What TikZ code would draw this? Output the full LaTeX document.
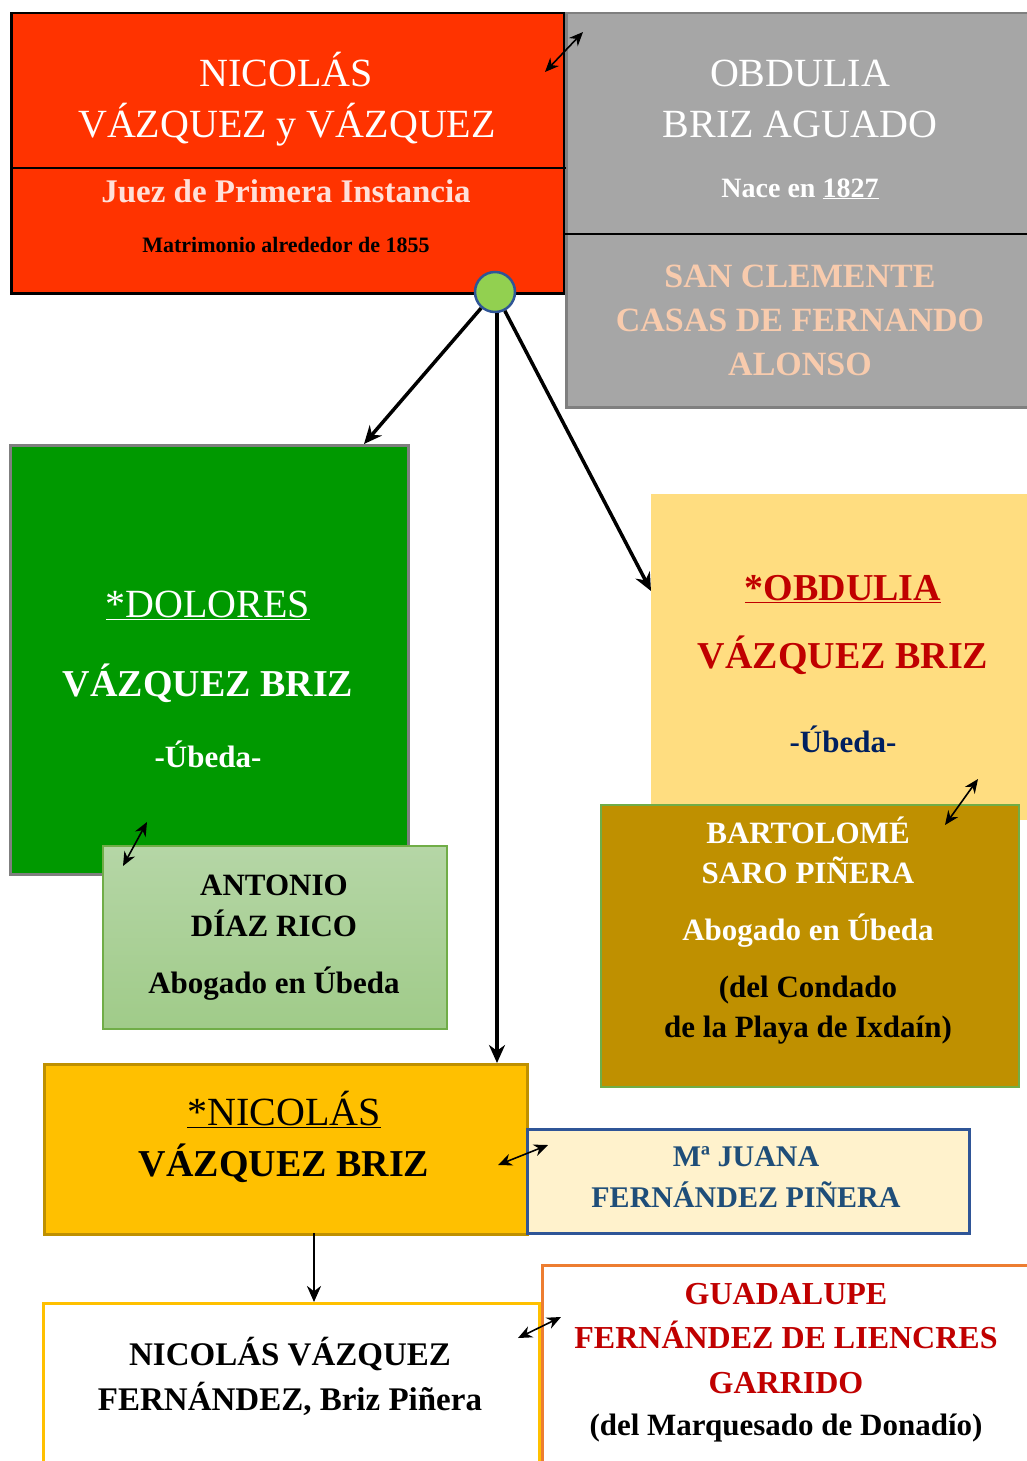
\documentclass[tikz,border=0pt]{standalone}
\usepackage{fontspec}
\setmainfont{Liberation Serif}
\usetikzlibrary{arrows.meta}
\definecolor{rojo}{HTML}{FF3300}
\definecolor{gris}{HTML}{A6A6A6}
\definecolor{grisborde}{HTML}{7F7F7F}
\definecolor{melocoton}{HTML}{F8CBAD}
\definecolor{verde}{HTML}{009900}
\definecolor{verdeclaro}{HTML}{B5D6A6}
\definecolor{verdemedio}{HTML}{A0CB89}
\definecolor{verdeborde}{HTML}{70AD47}
\definecolor{amarillo}{HTML}{FFDD80}
\definecolor{oro}{HTML}{BF9000}
\definecolor{ambar}{HTML}{FFC000}
\definecolor{crema}{HTML}{FFF2CC}
\definecolor{azulborde}{HTML}{2F5597}
\definecolor{azultexto}{HTML}{1F4E79}
\definecolor{marino}{HTML}{002060}
\definecolor{granate}{HTML}{C00000}
\definecolor{naranja}{HTML}{ED7D31}
\definecolor{verdelima}{HTML}{92D050}
\newcommand{\tam}[1]{\fontsize{#1}{#1}\selectfont}
\tikzset{
  caja/.style={rectangle, anchor=north west, inner sep=0pt},
  txt/.style={anchor=base, inner sep=0pt},
  flecha/.style={-{Stealth[length=18pt,width=16pt]}, line width=3.5pt},
  doble/.style={{Stealth[length=14pt,width=12pt]}-{Stealth[length=14pt,width=12pt]}, line width=1.6pt},
}
\begin{document}
\begin{tikzpicture}[x=1pt, y=-1pt]
    \useasboundingbox (0,0) rectangle (1027,1461);
    \clip (0,0) rectangle (1027,1461);
    % cajas
    \node[caja, fill=rojo, draw=black, line width=2.5pt, minimum width=553pt, minimum height=280pt] (padre) at (10,12) {};
    \node[caja, fill=gris, draw=grisborde, line width=2.5pt, minimum width=480pt, minimum height=394pt] (madre) at (565,12) {};
    \draw[line width=1.4pt] (padre.west |- 0,168) -- (padre.east |- 0,168);
    \draw[line width=1.4pt] (madre.west |- 0,234) -- (1030,234);
    \node[caja, fill=verde, draw=grisborde, line width=2.5pt, minimum width=398pt, minimum height=429pt] (dolores) at (9,444) {};
    \node[caja, top color=verdeclaro, bottom color=verdemedio, draw=verdeborde, line width=1.8pt, minimum width=344pt, minimum height=183pt] (antonio) at (102,845) {};
    \node[caja, fill=amarillo, minimum width=390pt, minimum height=326pt] (obdulia) at (651,494) {};
    \node[caja, fill=oro, draw=verdeborde, line width=1.8pt, minimum width=418pt, minimum height=282pt] (bartolome) at (600,804) {};
    \node[caja, fill=ambar, draw=oro, line width=2.5pt, minimum width=483pt, minimum height=170pt] (nicolas) at (43,1063) {};
    \node[caja, fill=crema, draw=azulborde, line width=2.5pt, minimum width=442pt, minimum height=104pt] (juana) at (526,1128) {};
    \node[caja, fill=white, draw=ambar, line width=2.5pt, minimum width=496pt, minimum height=220pt] (nieto) at (42,1302) {};
    \node[caja, fill=white, draw=naranja, line width=2.5pt, minimum width=500pt, minimum height=240pt] (guadalupe) at (541,1264) {};
    % textos
    \node[txt, white, font=\tam{40}] (p1) at (286,87) {NICOLÁS};
    \node[txt, white, font=\tam{40}] (p2) at (287,138) {VÁZQUEZ y VÁZQUEZ};
    \node[txt, white!85!rojo, font=\bfseries\tam{33}] (p3) at (286,202) {Juez de Primera Instancia};
    \node[txt, black, font=\bfseries\tam{22}] (p4) at (286,252) {Matrimonio alrededor de 1855};
    \node[txt, white, font=\tam{40}] (m1) at (800,87) {OBDULIA};
    \node[txt, white, font=\tam{40}] (m2) at (800,138) {BRIZ AGUADO};
    \node[txt, white, font=\bfseries\tam{28}] (m3) at (800,197) {Nace en \underline{1827}};
    \foreach \y/\t [count=\i] in {287/SAN CLEMENTE, 331/CASAS DE FERNANDO, 375/ALONSO}
      \node[txt, melocoton, font=\bfseries\tam{34}] (ms\i) at (800,\y) {\t};
    \node[txt, white, font=\tam{40}] (d1) at (208,617) {\underline{*DOLORES}};
    \node[txt, white, font=\bfseries\tam{38}] (d2) at (208,696) {VÁZQUEZ BRIZ};
    \node[txt, white, font=\bfseries\tam{31}] (d3) at (208,767) {-Úbeda-};
    \node[txt, font=\bfseries\tam{31}] (a1) at (274,895) {ANTONIO};
    \node[txt, font=\bfseries\tam{31}] (a2) at (274,936) {DÍAZ RICO};
    \node[txt, font=\bfseries\tam{31}] (a3) at (274,993) {Abogado en Úbeda};
    \node[txt, granate, font=\bfseries\tam{38}] (o1) at (843,600) {\underline{*OBDULIA}};
    \node[txt, granate, font=\bfseries\tam{38}] (o2) at (843,668) {VÁZQUEZ BRIZ};
    \node[txt, marino, font=\bfseries\tam{31}] (o3) at (843,752) {-Úbeda-};
    \node[txt, white, font=\bfseries\tam{31}] (b1) at (808,843) {BARTOLOMÉ};
    \node[txt, white, font=\bfseries\tam{31}] (b2) at (808,883) {SARO PIÑERA};
    \node[txt, white, font=\bfseries\tam{31}] (b3) at (808,940) {Abogado en Úbeda};
    \node[txt, font=\bfseries\tam{31}] (b4) at (808,997) {(del Condado};
    \node[txt, font=\bfseries\tam{31}] (b5) at (808,1037) {de la Playa de Ixdaín)};
    \node[txt, font=\tam{40}] (n1) at (284,1125) {\underline{*NICOLÁS}};
    \node[txt, font=\bfseries\tam{38}] (n2) at (284,1176) {VÁZQUEZ BRIZ};
    \node[txt, azultexto, font=\bfseries\tam{30}] (j1) at (746,1166) {Mª JUANA};
    \node[txt, azultexto, font=\bfseries\tam{30}] (j2) at (746,1207) {FERNÁNDEZ PIÑERA};
    \node[txt, font=\bfseries\tam{33}] (v1) at (290,1365) {NICOLÁS VÁZQUEZ};
    \node[txt, font=\bfseries\tam{33}] (v2) at (290,1410) {FERNÁNDEZ, Briz Piñera};
    \foreach \y/\t [count=\i] in {1304/GUADALUPE, 1348/FERNÁNDEZ DE LIENCRES, 1393/GARRIDO}
      \node[txt, granate, font=\bfseries\tam{32}] (g\i) at (786,\y) {\t};
    \node[txt, font=\bfseries\tam{31}] (g4) at (786,1435) {(del Marquesado de Donadío)};
    % union y descendencia
    \node[circle, fill=verdelima, draw=azulborde, line width=2.5pt, minimum size=40pt, inner sep=0pt] (union) at (495,292) {};
    \coordinate (hd) at (364,444);
    \coordinate (ho) at (651,591);
    \draw[flecha] (union) -- (hd);
    \draw[flecha] ([xshift=2pt]union.south) -- ([xshift=2pt]union.south |- nicolas.north);
    \draw[flecha] (union) -- (ho);
    \coordinate (bajo) at (314,1233);
    \draw[-{Stealth[length=16pt,width=14pt]}, line width=2.5pt] (bajo) -- (bajo |- nieto.north);
    % matrimonios
    \coordinate (m1a) at (545,72);   \coordinate (m1b) at (583,32);
    \coordinate (m2a) at (123,866);  \coordinate (m2b) at (147,822);
    \coordinate (m3a) at (945,825);  \coordinate (m3b) at (978,779);
    \coordinate (m4a) at (498,1165); \coordinate (m4b) at (548,1145);
    \coordinate (m5a) at (518,1338); \coordinate (m5b) at (561,1317);
    \foreach \i in {1,...,5}
      \draw[doble] (m\i a) -- (m\i b);
\end{tikzpicture}
\end{document}
